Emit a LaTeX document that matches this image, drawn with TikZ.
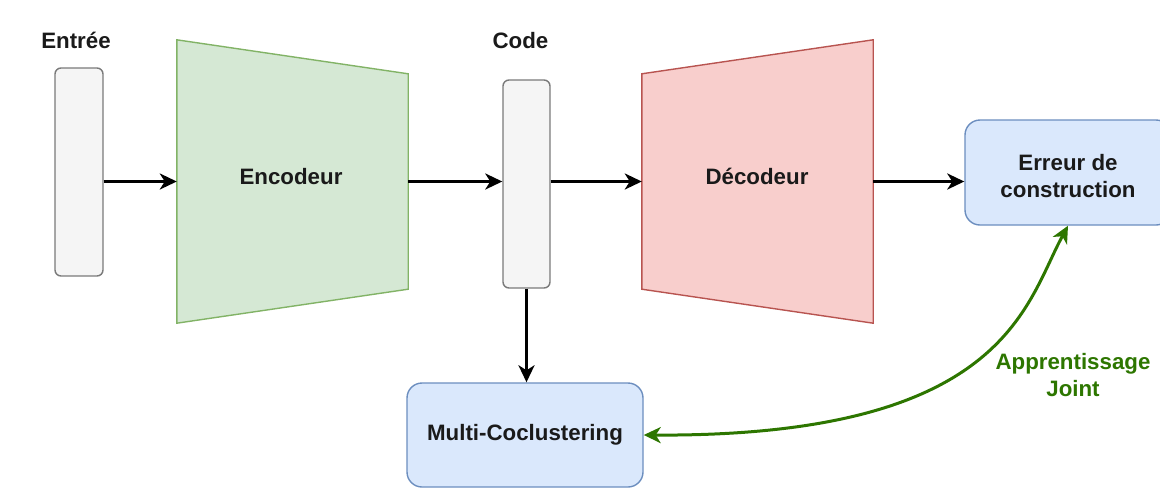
\documentclass[tikz,border=0pt]{standalone}
\usepackage{fontspec}
\setmainfont{Liberation Sans}
\usetikzlibrary{arrows.meta,calc}

\definecolor{encfill}{HTML}{D5E8D4}
\definecolor{encline}{HTML}{82B366}
\definecolor{decfill}{HTML}{F8CECC}
\definecolor{decline}{HTML}{B85450}
\definecolor{boxfill}{HTML}{DAE8FC}
\definecolor{boxline}{HTML}{6C8EBF}
\definecolor{vecfill}{HTML}{F5F5F5}
\definecolor{vecline}{HTML}{7A7A7A}
\definecolor{joint}{HTML}{2D7600}
\definecolor{ink}{HTML}{1A1A1A}

\begin{document}
\begin{tikzpicture}[x=1pt,y=-1pt,
  every node/.style={font=\fontsize{22.3}{27}\selectfont\bfseries, text=ink,
    inner sep=0pt, align=center},
  vecbox/.style={draw=vecline, fill=vecfill, line width=1.4pt,
    rounded corners=6pt, minimum width=48pt, minimum height=208pt},
  roundbox/.style={draw=boxline, fill=boxfill, line width=1.4pt,
    rounded corners=15pt},
  trapframe/.style={minimum width=231pt, minimum height=283pt},
  tip/.tip={Stealth[length=17pt,width=16pt,inset=5pt]},
  flow/.style={-tip, line width=3pt, black},
  jointflow/.style={tip-tip, line width=3pt, joint},
]
\useasboundingbox (0,0) rectangle (1160,491);

% input and code vectors
\node[vecbox] (in) at (79,172) {};
\node[anchor=base] (inlbl) at (76,48) {Entrée};
\node[vecbox, minimum width=47pt] (code) at (526.5,184) {};
\node[anchor=base] (codelbl) at (520.5,48) {Code};

% encoder: narrowing trapezoid
\node[trapframe] (enc) at (292.5,181.5) {};
\draw[draw=encline, fill=encfill, line width=1.4pt]
  (enc.north west) -- ($(enc.north east)+(0,34)$) -- ($(enc.south east)+(0,-34)$)
  -- (enc.south west) -- cycle;
\node[anchor=base] (enctxt) at (291,184) {Encodeur};

% decoder: widening trapezoid
\node[trapframe] (dec) at (757.5,181.5) {};
\draw[draw=decline, fill=decfill, line width=1.4pt]
  ($(dec.north west)+(0,34)$) -- (dec.north east) -- (dec.south east)
  -- ($(dec.south west)+(0,-34)$) -- cycle;
\node[anchor=base] (dectxt) at (757,184) {Décodeur};

% reconstruction error and clustering
\node[roundbox, minimum width=206pt, minimum height=105pt, text height=50pt]
  (err) at (1068,172.5) {Erreur de\\construction};
\node[roundbox, minimum width=236pt, minimum height=104pt] (mc) at (525,435)
  {Multi-Coclustering};

% main data flow
\draw[flow] (in.east |- enc.west) -- (enc.west);
\draw[flow] (enc.east) -- (code.west |- enc.east);
\draw[flow] (code.east |- dec.west) -- (dec.west);
\draw[flow] (dec.east) -- (err.west |- dec.east);
\draw[flow] (code.south) -- (code.south |- mc.north);

% joint learning link
\draw[jointflow] (mc.east) .. controls (1005,437) and (1025,305) .. (err.south);
\node[text=joint] (jointlbl) at (1073,375) {Apprentissage\\Joint};
\end{tikzpicture}
\end{document}
